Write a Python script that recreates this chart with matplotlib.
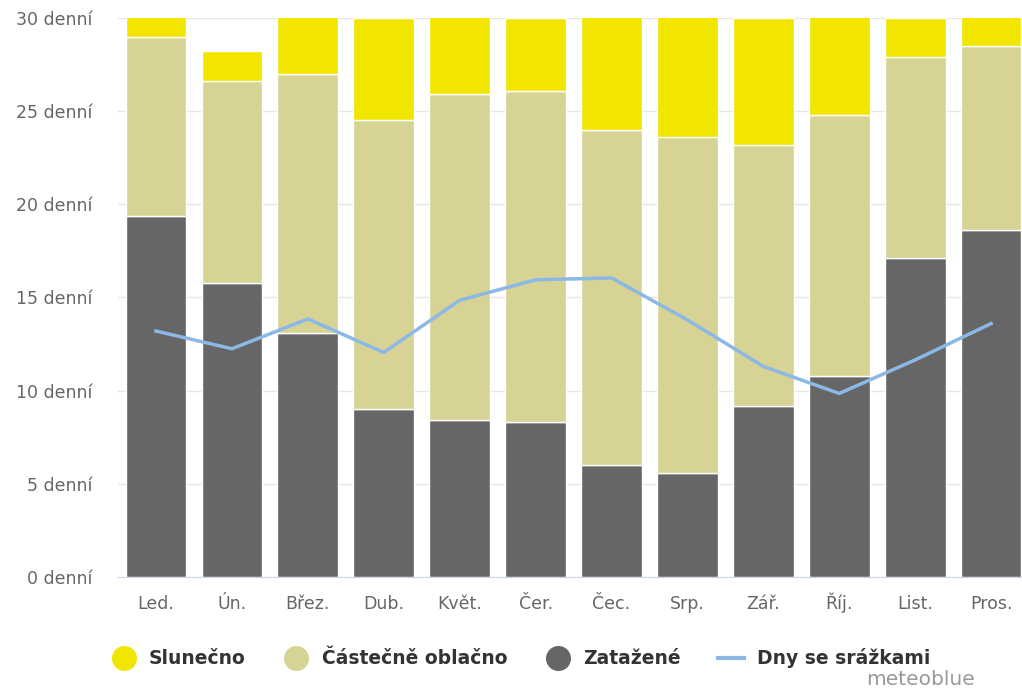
import matplotlib.pyplot as plt
from matplotlib.lines import Line2D
import numpy as np

plt.rcParams['font.family'] = ['DejaVu Sans']

months = ['Led.', 'Ún.', 'Břez.', 'Dub.', 'Květ.', 'Čer.', 'Čec.', 'Srp.', 'Zář.', 'Říj.', 'List.', 'Pros.']
overcast = [19.4, 15.8, 13.1, 9.0, 8.4, 8.3, 6.0, 5.6, 9.2, 10.8, 17.1, 18.6]
partly = [9.6, 10.8, 13.9, 15.5, 17.5, 17.8, 18.0, 18.0, 14.0, 14.0, 10.8, 9.9]
sunny = [2.0, 1.65, 4.0, 5.5, 5.1, 3.9, 7.0, 7.4, 6.8, 6.2, 2.1, 2.5]
precip = [13.2, 12.25, 13.85, 12.05, 14.85, 15.95, 16.05, 13.8, 11.3, 9.85, 11.65, 13.6]

c_sunny = '#f2e600'
c_partly = '#d6d395'
c_over = '#666666'
c_line = '#8cb8e6'

fig = plt.figure(figsize=(10.22, 6.9), dpi=100)
ax = fig.add_axes([0.1155, 0.1638, 0.8914, 0.8101])

x = np.arange(len(months))
w = 0.8
ax.bar(x, overcast, w, color=c_over, edgecolor='white', linewidth=1, zorder=2)
ax.bar(x, partly, w, bottom=overcast, color=c_partly, edgecolor='white', linewidth=1, zorder=2)
bot2 = np.array(overcast) + np.array(partly)
ax.bar(x, sunny, w, bottom=bot2, color=c_sunny, edgecolor='white', linewidth=1, zorder=2)
ax.plot(x, precip, color=c_line, linewidth=2.5, zorder=3)

ax.set_xlim(-0.5, 11.5)
ax.set_ylim(0, 30)
ax.set_yticks(range(0, 31, 5))
ax.set_yticklabels([f'{v} denní' for v in range(0, 31, 5)])
ax.set_xticks(x)
ax.set_xticklabels(months, va='baseline')
ax.tick_params(axis='both', length=0, labelsize=12.5, colors='#666666')
ax.tick_params(axis='y', pad=18.5)
ax.tick_params(axis='x', pad=23)
ax.grid(axis='y', color='#e6e6e6', linewidth=1, zorder=0)
for s in ['top', 'right', 'left']:
    ax.spines[s].set_visible(False)
ax.spines['bottom'].set_color('#ccd6eb')
ax.set_axisbelow(True)

handles = [
    Line2D([], [], marker='o', linestyle='none', markersize=17, color=c_sunny),
    Line2D([], [], marker='o', linestyle='none', markersize=17, color=c_partly),
    Line2D([], [], marker='o', linestyle='none', markersize=17, color=c_over),
    Line2D([], [], color=c_line, linewidth=3),
]
labels = ['Slunečno', 'Částečně oblačno', 'Zatažené', 'Dny se srážkami']
leg = fig.legend(handles, labels, loc='center', bbox_to_anchor=(0.509, 0.046), ncol=4,
                 frameon=False, prop={'size': 13.5, 'weight': 'bold'},
                 handlelength=1.4, handletextpad=0.65, columnspacing=2.0)
for t in leg.get_texts():
    t.set_color('#333333')

fig.text(0.954, 0.007, 'meteoblue', ha='right', va='baseline', fontsize=14.5, color='#999999')

fig.savefig('out.png', dpi=100)
